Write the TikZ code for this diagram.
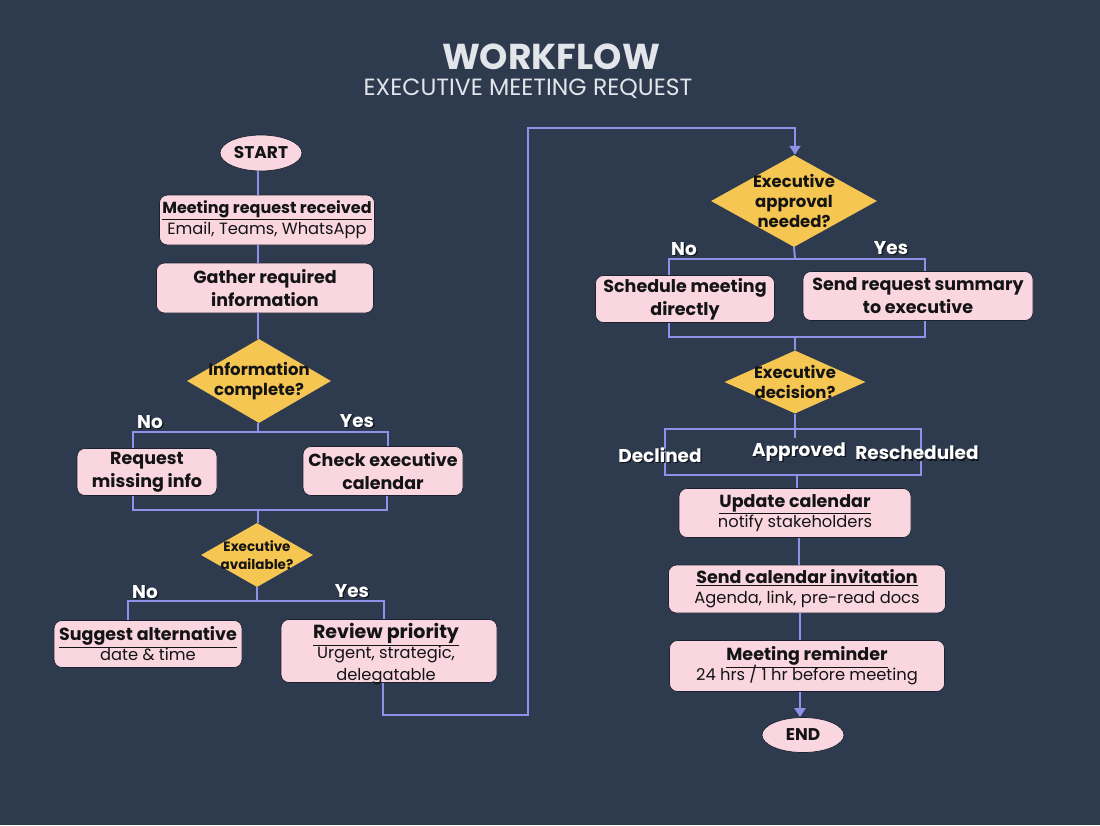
\documentclass[tikz,border=0pt]{standalone}
\usepackage{fontspec}
\setmainfont{Poppins}
\usetikzlibrary{shapes.geometric,arrows.meta}
\definecolor{bgc}{HTML}{2E3B4E}
\definecolor{pinkc}{HTML}{F9D6E0}
\definecolor{yelc}{HTML}{F6C653}
\definecolor{linec}{HTML}{8F90EA}
\definecolor{inkc}{HTML}{141414}
\definecolor{titc}{HTML}{E2E5EA}
\definecolor{edgec}{HTML}{1C2230}
\definecolor{shadc}{HTML}{10141C}
\newcommand{\subtxt}{\fontsize{16.3}{20}\selectfont\mdseries}
\begin{document}
\begin{tikzpicture}[x=1pt,y=-1pt,
  box/.style={rectangle, rounded corners=8pt, fill=pinkc, draw=edgec, line width=0.7pt,
    align=center, text=inkc, inner sep=0pt, font=\fontsize{17.5}{23}\selectfont\bfseries},
  boxtext/.style={align=center, text=inkc, inner sep=0pt, font=\fontsize{17.5}{23}\selectfont\bfseries},
  term/.style={ellipse, fill=pinkc, draw=edgec, line width=0.7pt, inner sep=0pt,
    text=inkc, font=\fontsize{17}{20}\selectfont\bfseries},
  dia/.style={diamond, fill=yelc, draw=none, inner sep=0pt},
  diatext/.style={align=center, text=inkc, inner sep=0pt, font=\fontsize{16.5}{20}\selectfont\bfseries},
  conn/.style={draw=linec, line width=2pt},
  arr/.style={conn, -{Triangle[width=11pt,length=9pt]}},
  lab/.style={text=white, inner sep=0pt, font=\fontsize{18.5}{20}\selectfont\bfseries},
  labshadow/.style={lab, text=shadc, xshift=1.3pt, yshift=-1.3pt}
]
\fill[bgc] (0,0) rectangle (1100,825);
\useasboundingbox (0,0) rectangle (1100,825);

% title
\node[text=titc, inner sep=0pt, font=\fontsize{36}{38}\selectfont\bfseries] (title) at (551,57) {WORKFLOW};
\node[text=titc, inner sep=0pt, font=\fontsize{23.5}{26}\selectfont] (subtitle) at (528,89) {EXECUTIVE MEETING REQUEST};

% left column
\node[term, minimum width=82pt, minimum height=36pt] (start) at (261,153) {START};
\node[box, minimum width=215pt, minimum height=50pt] (b1) at (267,220)
  {\fontsize{16}{20}\selectfont\underline{Meeting request received}\\[-2pt]\subtxt Email, Teams, WhatsApp};
\node[box, minimum width=217pt, minimum height=50pt] (b2) at (265,288) {Gather required\\information};
\node[dia, minimum width=144pt, minimum height=84pt] (d1) at (259,381) {};
\node[diatext] (d1t) at (d1) {Information\\complete?};
\node[box, minimum width=140pt, minimum height=47pt] (b3) at (147,472) {Request\\missing info};
\node[box, minimum width=160pt, minimum height=49pt] (b4) at (383,471) {Check executive\\calendar};
\node[dia, minimum width=112pt, minimum height=64pt] (d2) at (257,555) {};
\node[diatext, font=\fontsize{13.5}{18}\selectfont\bfseries] (d2t) at (d2) {Executive\\available?};
\node[box, minimum width=188pt, minimum height=47pt] (b5) at (148,644)
  {\underline{Suggest alternative}\\[-3pt]\subtxt date \& time};
\node[box, minimum width=216pt, minimum height=63pt] (b6) at (389,651) {};
\node[boxtext] (b6t) at (386,654)
  {\fontsize{19}{22}\selectfont\underline{Review priority}\\[-3pt]\subtxt Urgent, strategic,\\[-1pt]\subtxt delegatable};

% right column
\node[dia, minimum width=166pt, minimum height=92pt] (d3) at (794,201) {};
\node[diatext] (d3t) at (d3) {Executive\\approval\\needed?};
\node[box, minimum width=179pt, minimum height=47pt] (b7) at (685,299) {Schedule meeting\\directly};
\node[box, minimum width=230pt, minimum height=49pt] (b8) at (918,296) {Send request summary\\to executive};
\node[dia, minimum width=141pt, minimum height=63pt] (d4) at (795,382) {};
\node[diatext] (d4t) at (d4) {Executive\\decision?};
\node[box, minimum width=232pt, minimum height=49pt] (b9) at (795,513)
  {\underline{Update calendar}\\[-3pt]\subtxt notify stakeholders};
\node[box, minimum width=277pt, minimum height=48pt] (b10) at (807,589)
  {\underline{Send calendar invitation}\\[-3pt]\subtxt Agenda, link, pre-read docs};
\node[box, minimum width=275pt, minimum height=51pt] (b11) at (807,666)
  {\underline{Meeting reminder}\\[-3pt]\subtxt 24 hrs / 1 hr before meeting};
\node[term, minimum width=82pt, minimum height=35pt] (endn) at (803,735) {END};

% connectors left
\draw[conn] (start.south -| 258,0) -- (b1.north -| 258,0);
\draw[conn] (b1.south -| 258,0) -- (b2.north -| 258,0);
\draw[conn] (b2.south -| 258,0) -- (d1.north -| 258,0);
\coordinate (j1) at (258,432);
\draw[conn] (d1.south -| 258,0) -- (j1);
\draw[conn] (b3.north -| 133,0) -- (133,432) -- (388,432) -- (b4.north -| 388,0);
\coordinate (j2) at (258,510);
\draw[conn] (b3.south -| 133,0) -- (133,510) -- (387,510) -- (b4.south -| 387,0);
\draw[conn] (j2) -- (d2.north -| 258,0);
\coordinate (j3) at (257,601);
\draw[conn] (d2.south) -- (j3);
\draw[conn] (b5.north -| 128,0) -- (128,601) -- (384,601) -- (b6.north -| 384,0);
\draw[arr] (b6.south -| 383,0) -- (383,715) -- (528,715) -- (528,128) -- (795,128) -- (d3.north -| 795,0);

% connectors right
\coordinate (j4) at (795,259);
\draw[conn] (d3.south) -- (j4);
\draw[conn] (b7.north -| 669,0) -- (669,259) -- (925,259) -- (b8.north -| 925,0);
\coordinate (j5) at (795,337);
\draw[conn] (b7.south -| 669,0) -- (669,337) -- (925,337) -- (b8.south -| 925,0);
\draw[conn] (j5) -- (d4.north);
\coordinate (j6) at (795,438);
\draw[conn] (d4.south) -- (j6);
\draw[conn] (665,429) -- (921,429) -- (921,475) -- (665,475) -- cycle;
\coordinate (j7) at (797,475);
\draw[conn] (j7) -- (b9.north -| 797,0);
\draw[conn] (b9.south -| 799,0) -- (b10.north -| 799,0);
\draw[conn] (b10.south -| 800,0) -- (b11.north -| 800,0);
\draw[arr] (b11.south -| 800,0) -- (endn.north -| 800,0);

% labels (with drop shadow)
\node[labshadow] (l1s) at (150,422) {No};
\node[lab] (l1) at (150,422) {No};
\node[labshadow] (l2s) at (357,421) {Yes};
\node[lab] (l2) at (357,421) {Yes};
\node[labshadow] (l3s) at (145,592) {No};
\node[lab] (l3) at (145,592) {No};
\node[labshadow] (l4s) at (352,591) {Yes};
\node[lab] (l4) at (352,591) {Yes};
\node[labshadow] (l5s) at (684,249) {No};
\node[lab] (l5) at (684,249) {No};
\node[labshadow] (l6s) at (891,248) {Yes};
\node[lab] (l6) at (891,248) {Yes};
\node[labshadow] (l7s) at (660,455) {Declined};
\node[lab] (l7) at (660,455) {Declined};
\node[labshadow] (l8s) at (799,452) {Approved};
\node[lab] (l8) at (799,452) {Approved};
\node[labshadow] (l9s) at (917,453) {Rescheduled};
\node[lab] (l9) at (917,453) {Rescheduled};
\end{tikzpicture}
\end{document}
